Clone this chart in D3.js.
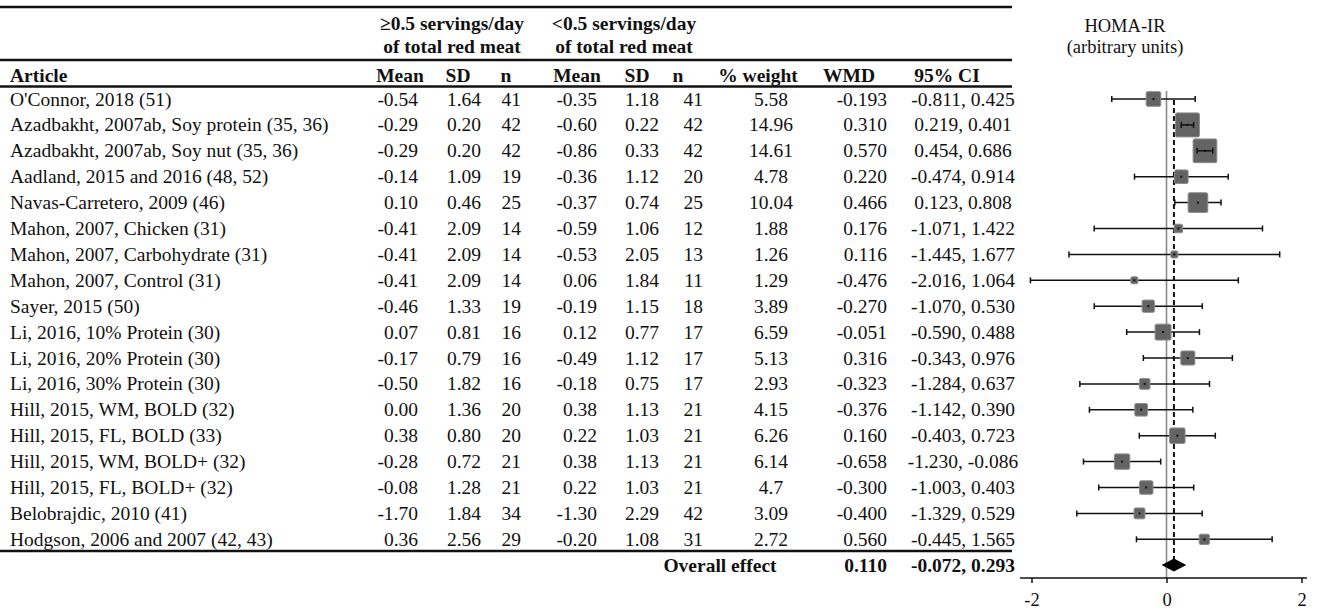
<!DOCTYPE html>
<html>
<head>
<meta charset="utf-8">
<script src="https://cdn.jsdelivr.net/npm/d3@7"></script>
<style>
  body { margin: 0; background: #fff; }
  svg text { font-family: "Liberation Serif", "Times New Roman", serif; fill: #111; }
</style>
</head>
<body>
<div id="chart"></div>
<script>
// study rows
const articles = [
  "O'Connor, 2018 (51)",
  "Azadbakht, 2007ab, Soy protein (35, 36)",
  "Azadbakht, 2007ab, Soy nut (35, 36)",
  "Aadland, 2015 and 2016 (48, 52)",
  "Navas-Carretero, 2009 (46)",
  "Mahon, 2007, Chicken (31)",
  "Mahon, 2007, Carbohydrate (31)",
  "Mahon, 2007, Control (31)",
  "Sayer, 2015 (50)",
  "Li, 2016, 10% Protein (30)",
  "Li, 2016, 20% Protein (30)",
  "Li, 2016, 30% Protein (30)",
  "Hill, 2015, WM, BOLD (32)",
  "Hill, 2015, FL, BOLD (33)",
  "Hill, 2015, WM, BOLD+ (32)",
  "Hill, 2015, FL, BOLD+ (32)",
  "Belobrajdic, 2010 (41)",
  "Hodgson, 2006 and 2007 (42, 43)"
];
const meanHi = [-0.54, -0.29, -0.29, -0.14, 0.10, -0.41, -0.41, -0.41, -0.46, 0.07, -0.17, -0.50, 0.00, 0.38, -0.28, -0.08, -1.70, 0.36];
const sdHi   = [1.64, 0.20, 0.20, 1.09, 0.46, 2.09, 2.09, 2.09, 1.33, 0.81, 0.79, 1.82, 1.36, 0.80, 0.72, 1.28, 1.84, 2.56];
const nHi    = [41, 42, 42, 19, 25, 14, 14, 14, 19, 16, 16, 16, 20, 20, 21, 21, 34, 29];
const meanLo = [-0.35, -0.60, -0.86, -0.36, -0.37, -0.59, -0.53, 0.06, -0.19, 0.12, -0.49, -0.18, 0.38, 0.22, 0.38, 0.22, -1.30, -0.20];
const sdLo   = [1.18, 0.22, 0.33, 1.12, 0.74, 1.06, 2.05, 1.84, 1.15, 0.77, 1.12, 0.75, 1.13, 1.03, 1.13, 1.03, 2.29, 1.08];
const nLo    = [41, 42, 42, 20, 25, 12, 13, 11, 18, 17, 17, 17, 21, 21, 21, 21, 42, 31];
const weight = [5.58, 14.96, 14.61, 4.78, 10.04, 1.88, 1.26, 1.29, 3.89, 6.59, 5.13, 2.93, 4.15, 6.26, 6.14, 4.7, 3.09, 2.72];
const wmd    = [-0.193, 0.310, 0.570, 0.220, 0.466, 0.176, 0.116, -0.476, -0.270, -0.051, 0.316, -0.323, -0.376, 0.160, -0.658, -0.300, -0.400, 0.560];
const ciLow  = [-0.811, 0.219, 0.454, -0.474, 0.123, -1.071, -1.445, -2.016, -1.070, -0.590, -0.343, -1.284, -1.142, -0.403, -1.230, -1.003, -1.329, -0.445];
const ciHigh = [0.425, 0.401, 0.686, 0.914, 0.808, 1.422, 1.677, 1.064, 0.530, 0.488, 0.976, 0.637, 0.390, 0.723, -0.086, 0.403, 0.529, 1.565];

// pooled estimate
const overallWmd = 0.110;
const overallLow = -0.072;
const overallHigh = 0.293;

const axisTicks = [-2, 0, 2];

const width = 1317, height = 615;
const FONT = 19.5;

const svg = d3.select("#chart").append("svg")
  .attr("width", width)
  .attr("height", height);

const rows = articles.map((a, i) => ({
  article: a, meanHi: meanHi[i], sdHi: sdHi[i], nHi: nHi[i],
  meanLo: meanLo[i], sdLo: sdLo[i], nLo: nLo[i], weight: weight[i],
  wmd: wmd[i], lo: ciLow[i], hi: ciHigh[i]
}));

const y = d3.scalePoint()
  .domain(articles)
  .range([99, 99 + 17 * 25.9]);
const yOverall = 565;

const x = d3.scaleLinear().domain([-2, 2]).range([1031.5, 1301.5]);
const size = d3.scaleSqrt().domain([0, d3.max(weight)]).range([0, 24]);

// plain hyphen instead of d3's unicode minus
const f2 = v => v.toFixed(2), f3 = v => v.toFixed(3);

// ---------- table ----------
const table = svg.append("g");

// horizontal rules
[7, 60, 86.5, 551].forEach(yy => {
  table.append("line")
    .attr("x1", 0).attr("x2", 1012)
    .attr("y1", yy).attr("y2", yy)
    .attr("stroke", "#111").attr("stroke-width", 2.5);
});

const groupHead = [
  { x: 452, lines: ["\u22650.5 servings/day", "of total red meat"] },
  { x: 624, lines: ["<0.5 servings/day", "of total red meat"] }
];
groupHead.forEach(g => {
  g.lines.forEach((t, k) => {
    table.append("text")
      .attr("x", g.x).attr("y", 30 + k * 23)
      .attr("text-anchor", "middle")
      .attr("font-size", FONT).attr("font-weight", "bold")
      .text(t);
  });
});

const colHead = [
  { t: "Article", x: 10, a: "start" },
  { t: "Mean", x: 400, a: "middle" },
  { t: "SD", x: 458, a: "middle" },
  { t: "n", x: 506, a: "middle" },
  { t: "Mean", x: 577, a: "middle" },
  { t: "SD", x: 637, a: "middle" },
  { t: "n", x: 678, a: "middle" },
  { t: "% weight", x: 758, a: "middle" },
  { t: "WMD", x: 849, a: "middle" },
  { t: "95% CI", x: 947, a: "middle" }
];
table.selectAll(".colhead")
  .data(colHead)
  .enter().append("text")
  .attr("class", "colhead")
  .attr("x", d => d.x).attr("y", 82)
  .attr("text-anchor", d => d.a)
  .attr("font-size", FONT).attr("font-weight", "bold")
  .text(d => d.t);

const cols = [
  { x: 10, a: "start", v: d => d.article },
  { x: 418, a: "end", v: d => f2(d.meanHi) },
  { x: 481, a: "end", v: d => f2(d.sdHi) },
  { x: 521, a: "end", v: d => d.nHi },
  { x: 597, a: "end", v: d => f2(d.meanLo) },
  { x: 659, a: "end", v: d => f2(d.sdLo) },
  { x: 703, a: "end", v: d => d.nLo },
  { x: 771, a: "middle", v: d => String(d.weight) },
  { x: 887, a: "end", v: d => f3(d.wmd) },
  { x: 963, a: "middle", v: d => f3(d.lo) + ", " + f3(d.hi) }
];

const rowG = table.selectAll(".row")
  .data(rows)
  .enter().append("g")
  .attr("class", "row")
  .attr("transform", d => "translate(0," + (y(d.article) + 6.5) + ")");

cols.forEach(c => {
  rowG.append("text")
    .attr("x", c.x)
    .attr("text-anchor", c.a)
    .attr("font-size", FONT)
    .text(c.v);
});

// overall row
table.append("text").attr("x", 720).attr("y", yOverall + 6.5)
  .attr("text-anchor", "middle").attr("font-size", FONT).attr("font-weight", "bold")
  .text("Overall effect");
table.append("text").attr("x", 887).attr("y", yOverall + 6.5)
  .attr("text-anchor", "end").attr("font-size", FONT).attr("font-weight", "bold")
  .text(f3(overallWmd));
table.append("text").attr("x", 963).attr("y", yOverall + 6.5)
  .attr("text-anchor", "middle").attr("font-size", FONT).attr("font-weight", "bold")
  .text(f3(overallLow) + ", " + f3(overallHigh));

// ---------- forest plot ----------
const plot = svg.append("g");

plot.append("text").attr("x", 1125).attr("y", 32)
  .attr("text-anchor", "middle").attr("font-size", 18.5)
  .text("HOMA-IR");
plot.append("text").attr("x", 1125).attr("y", 53)
  .attr("text-anchor", "middle").attr("font-size", 18.5)
  .text("(arbitrary units)");

// zero line
plot.append("line")
  .attr("x1", x(0)).attr("x2", x(0))
  .attr("y1", 91).attr("y2", 578)
  .attr("stroke", "#8a8a8a").attr("stroke-width", 1.6);

// pooled effect line
plot.append("line")
  .attr("x1", x(overallWmd)).attr("x2", x(overallWmd))
  .attr("y1", 100).attr("y2", yOverall - 6)
  .attr("stroke", "#111").attr("stroke-width", 2)
  .attr("stroke-dasharray", "5,3");

const study = plot.selectAll(".study")
  .data(rows)
  .enter().append("g")
  .attr("class", "study")
  .attr("transform", d => "translate(0," + y(d.article) + ")");

function drawCI(sel) {
  sel.append("line")
    .attr("x1", d => x(d.lo)).attr("x2", d => x(d.hi))
    .attr("stroke", "#111").attr("stroke-width", 1.5);
  sel.append("line")
    .attr("x1", d => x(d.lo)).attr("x2", d => x(d.lo))
    .attr("y1", -3).attr("y2", 3)
    .attr("stroke", "#111").attr("stroke-width", 1.5);
  sel.append("line")
    .attr("x1", d => x(d.hi)).attr("x2", d => x(d.hi))
    .attr("y1", -3).attr("y2", 3)
    .attr("stroke", "#111").attr("stroke-width", 1.5);
}

drawCI(study);

study.append("rect")
  .attr("x", d => x(d.wmd) - size(d.weight) / 2)
  .attr("y", d => -size(d.weight) / 2)
  .attr("width", d => size(d.weight))
  .attr("height", d => size(d.weight))
  .attr("rx", 1.5)
  .attr("fill", "#646464")
  .attr("stroke", "#8c8c8c")
  .attr("stroke-width", 1);

// error bar stays visible when it is shorter than the marker
drawCI(study.filter(d => x(d.hi) - x(d.lo) < size(d.weight)));

study.append("rect")
  .attr("x", d => x(d.wmd) - 1)
  .attr("y", -1)
  .attr("width", 2).attr("height", 2)
  .attr("fill", "#111");

// diamond
plot.append("path")
  .attr("d", "M" + x(overallLow) + "," + yOverall +
    "L" + x(overallWmd) + "," + (yOverall - 6.5) +
    "L" + x(overallHigh) + "," + yOverall +
    "L" + x(overallWmd) + "," + (yOverall + 6.5) + "Z")
  .attr("fill", "#000");

// axis
const axis = plot.append("g")
  .attr("transform", "translate(0,578)")
  .call(d3.axisBottom(x).tickValues(axisTicks).tickSizeOuter(0).tickSize(5).tickPadding(10)
    .tickFormat(d => d < 0 ? "-" + Math.abs(d) : String(d)));
axis.select(".domain")
  .attr("d", "M" + x(-2.17) + ",0H" + x(2.08))
  .attr("stroke", "#111").attr("stroke-width", 1.5);
axis.selectAll(".tick line").attr("stroke", "#111").attr("stroke-width", 1.5);
axis.selectAll(".tick text")
  .attr("font-size", 18.5)
  .attr("font-family", "Liberation Serif, Times New Roman, serif")
  .attr("fill", "#111");
</script>
</body>
</html>
